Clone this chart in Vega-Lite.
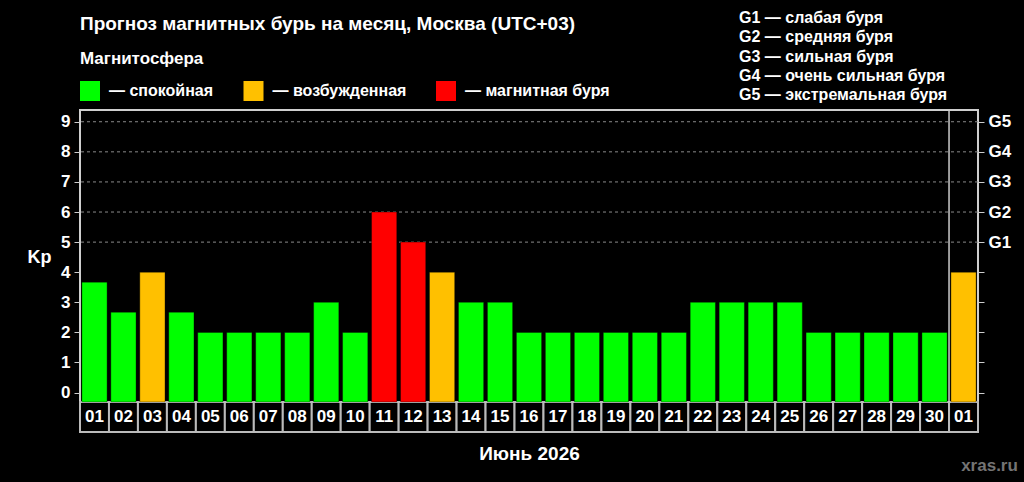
{
  "$schema": "https://vega.github.io/schema/vega-lite/v6.json",
  "description": "Monthly geomagnetic storm forecast (Kp index) for Moscow, June 2026.",
  "width": 898,
  "height": 322,
  "autosize": {"type": "none"},
  "padding": {"left": 80, "top": 110, "right": 46, "bottom": 50},
  "background": "#000000",
  "title": {
    "text": "Прогноз магнитных бурь на месяц, Москва (UTC+03)",
    "anchor": "start",
    "frame": "group",
    "offset": -23.5,
    "fontSize": 19,
    "font": "Liberation Sans",
    "fontWeight": "bold",
    "color": "#ffffff"
  },
  "datasets": {
    "days": [
      {"date": "2026-06-01", "day": "01", "kp": 3.67, "state": "спокойная"},
      {"date": "2026-06-02", "day": "02", "kp": 2.67, "state": "спокойная"},
      {"date": "2026-06-03", "day": "03", "kp": 4, "state": "возбужденная"},
      {"date": "2026-06-04", "day": "04", "kp": 2.67, "state": "спокойная"},
      {"date": "2026-06-05", "day": "05", "kp": 2, "state": "спокойная"},
      {"date": "2026-06-06", "day": "06", "kp": 2, "state": "спокойная"},
      {"date": "2026-06-07", "day": "07", "kp": 2, "state": "спокойная"},
      {"date": "2026-06-08", "day": "08", "kp": 2, "state": "спокойная"},
      {"date": "2026-06-09", "day": "09", "kp": 3, "state": "спокойная"},
      {"date": "2026-06-10", "day": "10", "kp": 2, "state": "спокойная"},
      {"date": "2026-06-11", "day": "11", "kp": 6, "state": "магнитная буря"},
      {"date": "2026-06-12", "day": "12", "kp": 5, "state": "магнитная буря"},
      {"date": "2026-06-13", "day": "13", "kp": 4, "state": "возбужденная"},
      {"date": "2026-06-14", "day": "14", "kp": 3, "state": "спокойная"},
      {"date": "2026-06-15", "day": "15", "kp": 3, "state": "спокойная"},
      {"date": "2026-06-16", "day": "16", "kp": 2, "state": "спокойная"},
      {"date": "2026-06-17", "day": "17", "kp": 2, "state": "спокойная"},
      {"date": "2026-06-18", "day": "18", "kp": 2, "state": "спокойная"},
      {"date": "2026-06-19", "day": "19", "kp": 2, "state": "спокойная"},
      {"date": "2026-06-20", "day": "20", "kp": 2, "state": "спокойная"},
      {"date": "2026-06-21", "day": "21", "kp": 2, "state": "спокойная"},
      {"date": "2026-06-22", "day": "22", "kp": 3, "state": "спокойная"},
      {"date": "2026-06-23", "day": "23", "kp": 3, "state": "спокойная"},
      {"date": "2026-06-24", "day": "24", "kp": 3, "state": "спокойная"},
      {"date": "2026-06-25", "day": "25", "kp": 3, "state": "спокойная"},
      {"date": "2026-06-26", "day": "26", "kp": 2, "state": "спокойная"},
      {"date": "2026-06-27", "day": "27", "kp": 2, "state": "спокойная"},
      {"date": "2026-06-28", "day": "28", "kp": 2, "state": "спокойная"},
      {"date": "2026-06-29", "day": "29", "kp": 2, "state": "спокойная"},
      {"date": "2026-06-30", "day": "30", "kp": 2, "state": "спокойная"},
      {"date": "2026-07-01", "day": "01", "kp": 4, "state": "возбужденная"}
    ],
    "levels": [
      {"level": 5, "g": "G1 — слабая буря"},
      {"level": 6, "g": "G2 — средняя буря"},
      {"level": 7, "g": "G3 — сильная буря"},
      {"level": 8, "g": "G4 — очень сильная буря"},
      {"level": 9, "g": "G5 — экстремальная буря"}
    ]
  },
  "layer": [
    {
      "data": {"name": "levels"},
      "mark": {"type": "rule", "color": "#8a8a8a", "strokeWidth": 1},
      "encoding": {
        "y": {
          "field": "level",
          "type": "quantitative",
          "scale": {"domain": [-1.31, 9.39], "nice": false, "zero": false},
          "axis": {
            "orient": "right",
            "values": [0, 1, 2, 3, 4, 5, 6, 7, 8, 9],
            "labelExpr": "datum.value >= 5 ? 'G' + (datum.value - 4) : ''",
            "domain": false,
            "grid": false,
            "tickColor": "#cccccc",
            "tickSize": 6,
            "tickWidth": 1,
            "labelPadding": 4,
            "labelColor": "#ffffff",
            "labelFont": "Liberation Sans",
            "labelFontWeight": "bold",
            "labelFontSize": 17,
            "title": "xras.ru",
            "titleAngle": 0,
            "titleAlign": "center",
            "titleBaseline": "middle",
            "titleX": 11,
            "titleY": 355,
            "titleColor": "#747474",
            "titleFont": "Liberation Sans",
            "titleFontWeight": "bold",
            "titleFontSize": 17
          }
        },
        "strokeDash": {
          "field": "g",
          "type": "nominal",
          "scale": {
            "domain": ["G1 — слабая буря", "G2 — средняя буря", "G3 — сильная буря", "G4 — очень сильная буря", "G5 — экстремальная буря"],
            "range": [[3, 3], [3, 3], [3, 3], [3, 3], [3, 3]]
          },
          "legend": {
            "orient": "none",
            "legendX": 643,
            "legendY": -100,
            "title": null,
            "symbolSize": 1,
            "symbolOpacity": 0,
            "symbolStrokeWidth": 0,
            "labelOffset": 0,
            "labelColor": "#ffffff",
            "labelFont": "Liberation Sans",
            "labelFontWeight": "bold",
            "labelFontSize": 16,
            "labelLimit": 400,
            "rowPadding": 3.25
          }
        }
      }
    },
    {
      "data": {"name": "days"},
      "mark": {"type": "rect", "fill": "#000000", "stroke": "#bbbbbb", "strokeWidth": 2},
      "encoding": {
        "x": {
          "field": "date",
          "type": "nominal",
          "sort": null,
          "scale": {"paddingInner": 0, "paddingOuter": 0},
          "axis": {"title": "Июнь 2026", "labels": false, "ticks": false, "domain": false, "titlePadding": 12, "titleColor": "#ffffff", "titleFont": "Liberation Sans", "titleFontWeight": "bold", "titleFontSize": 19}
        },
        "y": {"datum": -1.31, "type": "quantitative", "axis": null},
        "y2": {"datum": -0.31}
      }
    },
    {
      "data": {"name": "days"},
      "mark": {"type": "text", "color": "#ffffff", "font": "Liberation Sans", "fontWeight": "bold", "fontSize": 17, "baseline": "middle"},
      "encoding": {
        "x": {
          "field": "date",
          "type": "nominal",
          "sort": null,
          "scale": {"paddingInner": 0, "paddingOuter": 0},
          "axis": {"title": "Июнь 2026", "labels": false, "ticks": false, "domain": false, "titlePadding": 12, "titleColor": "#ffffff", "titleFont": "Liberation Sans", "titleFontWeight": "bold", "titleFontSize": 19}
        },
        "y": {"datum": -0.81, "type": "quantitative", "axis": null},
        "text": {"field": "day", "type": "nominal"}
      }
    },
    {
      "data": {"name": "days"},
      "mark": {"type": "bar", "width": {"band": 0.87}, "stroke": "#000000", "strokeOpacity": 0.35, "strokeWidth": 1},
      "encoding": {
        "x": {
          "field": "date",
          "type": "nominal",
          "sort": null,
          "scale": {"paddingInner": 0, "paddingOuter": 0},
          "axis": {"title": "Июнь 2026", "labels": false, "ticks": false, "domain": false, "titlePadding": 12, "titleColor": "#ffffff", "titleFont": "Liberation Sans", "titleFontWeight": "bold", "titleFontSize": 19}
        },
        "y": {
          "field": "kp",
          "type": "quantitative",
          "axis": {
            "orient": "left",
            "values": [0, 1, 2, 3, 4, 5, 6, 7, 8, 9],
            "domain": false,
            "grid": false,
            "tickColor": "#cccccc",
            "tickSize": 6,
            "tickWidth": 1,
            "labelPadding": 4,
            "labelColor": "#ffffff",
            "labelFont": "Liberation Sans",
            "labelFontWeight": "bold",
            "labelFontSize": 17,
            "title": "Kp",
            "titleAngle": 0,
            "titleAlign": "center",
            "titleBaseline": "middle",
            "titleX": -41,
            "titleY": 147,
            "titleColor": "#ffffff",
            "titleFont": "Liberation Sans",
            "titleFontWeight": "bold",
            "titleFontSize": 18
          }
        },
        "y2": {"datum": -0.31},
        "color": {
          "field": "state",
          "type": "nominal",
          "scale": {
            "domain": ["спокойная", "возбужденная", "магнитная буря"],
            "range": ["#00ff00", "#ffc000", "#ff0000"]
          },
          "legend": {
            "orient": "none",
            "legendX": 0,
            "legendY": -59,
            "direction": "horizontal",
            "title": "Магнитосфера",
            "titleColor": "#ffffff",
            "titleFont": "Liberation Sans",
            "titleFontWeight": "bold",
            "titleFontSize": 17,
            "titlePadding": 13,
            "symbolType": "square",
            "symbolSize": 400,
            "symbolStrokeWidth": 0,
            "symbolOpacity": 1,
            "labelExpr": "'— ' + datum.label",
            "labelOffset": 9,
            "labelColor": "#ffffff",
            "labelFont": "Liberation Sans",
            "labelFontWeight": "bold",
            "labelFontSize": 16,
            "columnPadding": 29.5
          }
        }
      }
    },
    {
      "data": {"values": [{"split": "2026-07-01"}]},
      "mark": {"type": "rule", "color": "#cccccc", "strokeWidth": 1.5},
      "encoding": {
        "x": {
          "field": "split",
          "type": "nominal",
          "bandPosition": 0,
          "scale": {"paddingInner": 0, "paddingOuter": 0},
          "axis": {"title": "Июнь 2026", "labels": false, "ticks": false, "domain": false, "titlePadding": 12, "titleColor": "#ffffff", "titleFont": "Liberation Sans", "titleFontWeight": "bold", "titleFontSize": 19}
        },
        "y": {"datum": -0.31, "type": "quantitative", "axis": null},
        "y2": {"datum": 9.39}
      }
    }
  ],
  "resolve": {"axis": {"y": "independent"}},
  "config": {
    "view": {"stroke": "#cfcfcf", "strokeWidth": 2, "fill": "#000000"},
    "legend": {"padding": 0}
  }
}
